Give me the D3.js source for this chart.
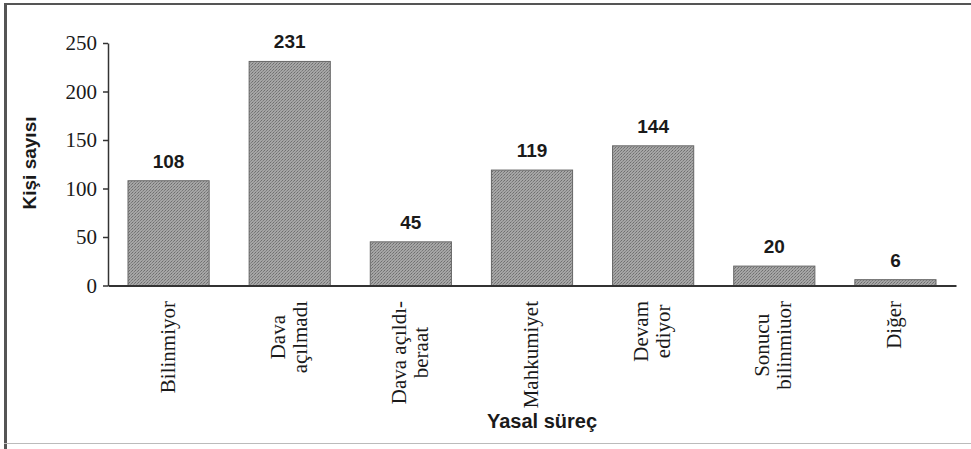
<!DOCTYPE html>
<html>
<head>
<meta charset="utf-8">
<script src="https://cdn.jsdelivr.net/npm/d3@7"></script>
<style>
  html, body { margin: 0; padding: 0; background: #fff; }
  svg { display: block; }
</style>
</head>
<body>
<svg id="chart" width="971" height="449"></svg>
<script>
const categories = [
  ["Bilinmiyor"],
  ["Dava", "açılmadı"],
  ["Dava açıldı-", "beraat"],
  ["Mahkumiyet"],
  ["Devam", "ediyor"],
  ["Sonucu", "bilinmiuor"],
  ["Diğer"]
];
const values = [108, 231, 45, 119, 144, 20, 6];
const yTicks = [0, 50, 100, 150, 200, 250];
const yTitle = "Kişi sayısı";
const xTitle = "Yasal süreç";

const svg = d3.select("#chart");
const W = 971, H = 449;

// stipple pattern for bars
const defs = svg.append("defs");
const pat = defs.append("pattern").attr("id", "stip").attr("patternUnits", "userSpaceOnUse")
  .attr("width", 3).attr("height", 3);
pat.append("rect").attr("width", 3).attr("height", 3).attr("fill", "#a6a6a6");
pat.append("rect").attr("x", 0).attr("y", 0).attr("width", 1).attr("height", 1).attr("fill", "#6e6e6e");
pat.append("rect").attr("x", 2).attr("y", 1).attr("width", 1).attr("height", 1).attr("fill", "#7a7a7a");
pat.append("rect").attr("x", 1).attr("y", 2).attr("width", 1).attr("height", 1).attr("fill", "#8a8a8a");

// frame
svg.append("rect").attr("x", 0).attr("y", 0).attr("width", W).attr("height", H).attr("fill", "#fff");
svg.append("line").attr("x1", 5.5).attr("x2", 5.5).attr("y1", 3).attr("y2", H).attr("stroke", "#555").attr("stroke-width", 3);
svg.append("line").attr("x1", 4).attr("x2", W).attr("y1", 4).attr("y2", 4).attr("stroke", "#555").attr("stroke-width", 2);
svg.append("line").attr("x1", 4).attr("x2", W).attr("y1", 443.5).attr("y2", 443.5).attr("stroke", "#bbb").attr("stroke-width", 1);

const keys = categories.map((c, i) => i);
const x = d3.scaleBand().domain(keys).range([108, 956]).paddingInner(0.33).paddingOuter(0.165);
const y = d3.scaleLinear().domain([0, 250]).range([285.5, 43]);

// bars
svg.append("g").selectAll("rect").data(values).join("rect")
  .attr("x", (d, i) => x(i))
  .attr("width", x.bandwidth())
  .attr("y", d => y(d))
  .attr("height", d => y(0) - y(d))
  .attr("fill", "url(#stip)")
  .attr("stroke", "#666")
  .attr("stroke-width", 1);

// value labels
svg.append("g").selectAll("text").data(values).join("text")
  .attr("x", (d, i) => x(i) + x.bandwidth() / 2)
  .attr("y", d => y(d) - 13)
  .attr("text-anchor", "middle")
  .attr("font-family", "Liberation Sans, Arial, sans-serif")
  .attr("font-weight", "bold")
  .attr("font-size", 19)
  .attr("fill", "#1a1a1a")
  .text(d => d);

// y axis
const yAxis = svg.append("g").attr("transform", "translate(108,0)")
  .call(d3.axisLeft(y).tickValues(yTicks).tickSize(5).tickSizeOuter(0).tickPadding(6));
yAxis.select(".domain").attr("stroke", "#333").attr("stroke-width", 1.5);
yAxis.selectAll(".tick line").attr("stroke", "#333").attr("stroke-width", 1.5);
yAxis.selectAll(".tick text")
  .attr("font-family", "Liberation Serif, Times New Roman, serif")
  .attr("font-size", 21)
  .attr("fill", "#1a1a1a");

// x axis (baseline)
const xAxis = svg.append("g").attr("transform", `translate(0,${y(0)})`)
  .call(d3.axisBottom(x).tickSize(0).tickSizeOuter(0).tickFormat(""));
xAxis.select(".domain").attr("stroke", "#333").attr("stroke-width", 2);

// category labels (rotated)
const labelTop = 301;
const lineGap = 22;
const lg = svg.append("g");
categories.forEach((lines, i) => {
  const cx = x(i) + x.bandwidth() / 2;
  const g = lg.append("g");
  const texts = lines.map((t, j) => g.append("text")
    .attr("font-family", "Liberation Serif, Times New Roman, serif")
    .attr("font-size", 21)
    .attr("fill", "#1a1a1a")
    .attr("text-anchor", "middle")
    .text(t));
  const maxLen = d3.max(texts, t => t.node().getComputedTextLength());
  const mid = labelTop + maxLen / 2;
  const n = lines.length;
  texts.forEach((t, j) => {
    const bx = cx + (j - (n - 1) / 2) * lineGap + 6;
    t.attr("transform", `translate(${bx},${mid}) rotate(-90)`);
  });
});

// axis titles
svg.append("text")
  .attr("transform", "translate(36,163) rotate(-90)")
  .attr("text-anchor", "middle")
  .attr("font-family", "Liberation Sans, Arial, sans-serif")
  .attr("font-weight", "bold")
  .attr("font-size", 19)
  .attr("fill", "#1a1a1a")
  .text(yTitle);

svg.append("text")
  .attr("x", 542).attr("y", 428)
  .attr("text-anchor", "middle")
  .attr("font-family", "Liberation Sans, Arial, sans-serif")
  .attr("font-weight", "bold")
  .attr("font-size", 20)
  .attr("fill", "#1a1a1a")
  .text(xTitle);
</script>
</body>
</html>
